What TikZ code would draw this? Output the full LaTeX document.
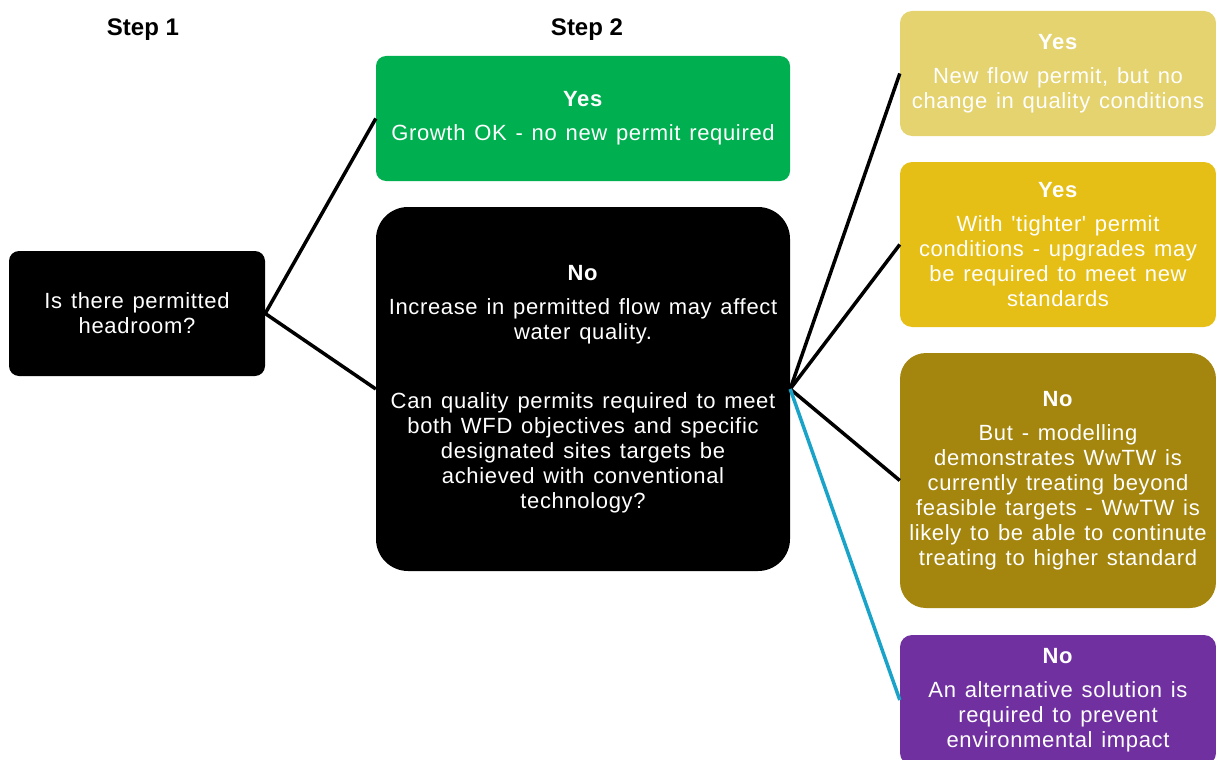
\documentclass[tikz,border=0pt]{standalone}
\usepackage{fontspec}
\setmainfont{Liberation Sans}
\newfontfamily\boxfont[LetterSpace=3, WordSpace=1.3]{Liberation Sans}
\definecolor{okgreen}{HTML}{00B050}
\definecolor{paleyellow}{HTML}{E4D36E}
\definecolor{deepyellow}{HTML}{E6BF16}
\definecolor{olive}{HTML}{A4860F}
\definecolor{violet}{HTML}{7030A0}
\definecolor{tealline}{HTML}{1AA3C9}
\begin{document}
\begin{tikzpicture}[x=1pt, y=-1pt,
		box/.style={rounded corners=12pt, text=white, align=center, inner sep=0pt,
			font=\boxfont\fontsize{22}{25}\selectfont},
		steplabel/.style={font=\bfseries\fontsize{24}{28}\selectfont},
		link/.style={line width=3.5pt}]
		\useasboundingbox (0,0) rectangle (1216,760);
		% step headings
		\node[steplabel] (s1) at (143,30) {Step 1};
		\node[steplabel] (s2) at (587,30) {Step 2};
		% step 1
		\node[box, fill=black, minimum width=256pt, minimum height=125pt, rounded corners=10pt] (head) at (137,313.5)
			{Is there permitted\\headroom?};
		% step 2
		\node[box, fill=okgreen, minimum width=414pt, minimum height=125pt, rounded corners=10pt] (grow) at (583,118.5)
			{\textbf{Yes}\\[9pt]Growth OK - no new permit required};
		\node[box, fill=black, minimum width=414pt, minimum height=364pt, rounded corners=32pt] (cannot) at (583,389)
			{\textbf{No}\\[9pt]Increase in permitted flow may affect\\water quality.\\[44pt]
			Can quality permits required to meet\\both WFD objectives and specific\\designated sites targets be\\achieved with conventional\\technology?};
		% outcomes
		\node[box, fill=paleyellow, minimum width=316pt, minimum height=125pt] (flow) at (1058,73.5)
			{\textbf{Yes}\\[9pt]New flow permit, but no\\change in quality conditions};
		\node[box, fill=deepyellow, minimum width=316pt, minimum height=165pt] (tight) at (1058,244.5)
			{\textbf{Yes}\\[9pt]With 'tighter' permit\\conditions - upgrades may\\be required to meet new\\standards};
		\node[box, fill=olive, minimum width=316pt, minimum height=255pt, rounded corners=26pt] (beyond) at (1058,480.5)
			{\textbf{No}\\[9pt]But - modelling\\demonstrates WwTW is\\currently treating beyond\\feasible targets - WwTW is\\likely to be able to continute\\treating to higher standard};
		\node[box, fill=violet, minimum width=316pt, minimum height=130pt] (alt) at (1058,700)
			{\textbf{No}\\[9pt]An alternative solution is\\required to prevent\\environmental impact};
		% connectors
		\draw[link] (grow.west) -- (head.east) -- (cannot.west);
		\draw[link] (flow.west) -- (cannot.east);
		\draw[link] (tight.west) -- (cannot.east);
		\draw[link] (beyond.west) -- (cannot.east);
		\draw[link, tealline] (cannot.east) -- (alt.west);
	\end{tikzpicture}
\end{document}
